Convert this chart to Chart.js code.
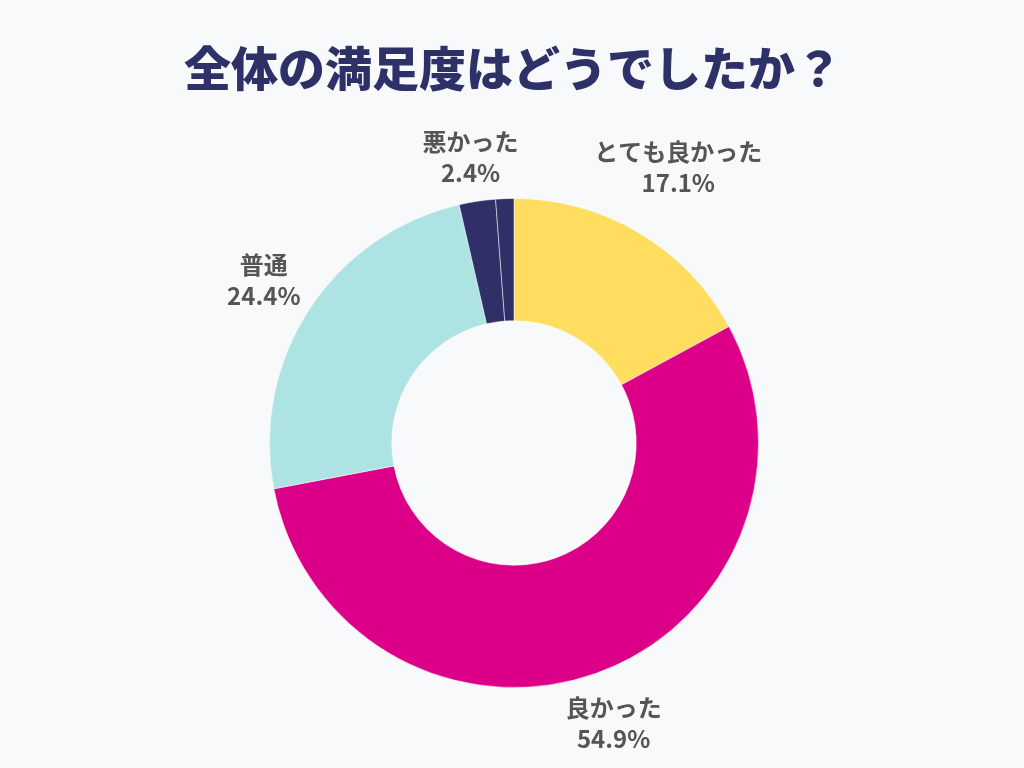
<!DOCTYPE html>
<html>
<head>
<meta charset="utf-8">
<script src="https://cdn.jsdelivr.net/npm/chart.js@4"></script>
<style>
  html, body { margin: 0; padding: 0; background: #f8f9fb; }
  #wrap { width: 1024px; height: 768px; }
</style>
</head>
<body>
<div id="wrap"><canvas id="chart" width="1024" height="768"></canvas></div>
<script>
const chartTitle = '全体の満足度はどうでしたか？';
const categories = ['とても良かった', '良かった', '普通', '悪かった', 'とても悪かった'];
const percents = [17.1, 54.9, 24.4, 2.4, 1.2];
const sliceColors = ['#fedd5f', '#db0087', '#ade3e2', '#2e3067', '#2e3067'];

// titre + etiquettes dessinees a la main
const labelPlugin = {
  id: 'labels',
  afterDraw(chart) {
    const ctx = chart.ctx;
    ctx.save();
    ctx.fillStyle = '#2e3168';
    ctx.font = '900 47px "Noto Sans CJK JP", sans-serif';
    ctx.textAlign = 'center';
    ctx.textBaseline = 'middle';
    ctx.fillText(chartTitle, 513, 68);

    ctx.fillStyle = '#555555';
    ctx.font = 'bold 24px "Noto Sans CJK JP", sans-serif';
    const meta = chart.getDatasetMeta(0);
    meta.data.forEach((arc, i) => {
      if (percents[i] < 2) return;
      const mid = (arc.startAngle + arc.endAngle) / 2;
      const lines = [categories[i], percents[i].toFixed(1) + '%'];
      const w = Math.max(...lines.map(t => ctx.measureText(t).width));
      const h = 64;
      const dx = Math.cos(mid), dy = Math.sin(mid);
      const ext = Math.abs(dx) * w / 2 + Math.abs(dy) * h / 2;
      const r = arc.outerRadius + ext + 6;
      const cx = arc.x + dx * r, cy = arc.y + dy * r;
      ctx.fillText(lines[0], cx, cy - 15);
      ctx.fillText(lines[1], cx, cy + 16);
    });
    ctx.restore();
  }
};

new Chart(document.getElementById('chart'), {
  type: 'doughnut',
  data: {
    labels: categories,
    datasets: [{
      data: percents,
      backgroundColor: sliceColors,
      borderColor: 'rgba(255,255,255,0.5)',
      borderWidth: 1
    }]
  },
  options: {
    responsive: false,
    animation: false,
    cutout: '50%',
    layout: { padding: { left: 269, right: 265, top: 198, bottom: 80 } },
    plugins: {
      legend: { display: false },
      tooltip: { enabled: false }
    }
  },
  plugins: [labelPlugin]
});
</script>
</body>
</html>
